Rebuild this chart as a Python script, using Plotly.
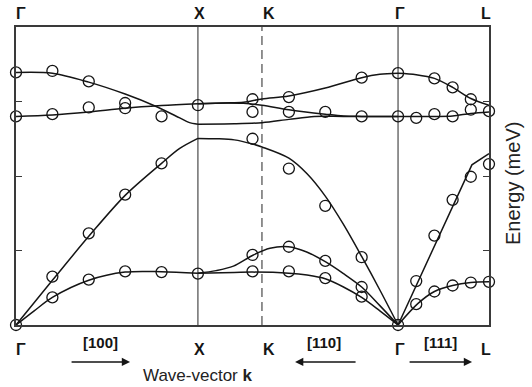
import plotly.graph_objects as go

# ---- symmetry points / labels ----
sym_labels = ['Γ', 'X', 'K', 'Γ', 'L']
sym_pos = [0.0, 1.0, 1.352, 2.1, 2.6]
dir_labels = ['[100]', '[110]', '[111]']
dir_pos = [0.467, 1.693, 2.331]
y_ticks = [10, 20, 30]

# ---- measured points (open circles) ----
meas_k = [0, 0, 0,
          0.2, 0.2, 0.2, 0.2,
          0.4, 0.4, 0.4, 0.4,
          0.6, 0.6, 0.6, 0.6,
          0.8, 0.8, 0.8,
          1.0, 1.0,
          1.3, 1.3, 1.3, 1.3, 1.3,
          1.5, 1.5, 1.5, 1.5, 1.5,
          1.7, 1.7, 1.7, 1.7,
          1.9, 1.9, 1.9, 1.9, 1.9,
          2.1, 2.1, 2.1,
          2.2, 2.2, 2.2,
          2.3, 2.3, 2.3, 2.3,
          2.4, 2.4, 2.4, 2.4,
          2.5, 2.5, 2.5, 2.5,
          2.6, 2.6, 2.6]
meas_E = [33.9, 28.0, 0.0,
          34.1, 28.3, 6.5, 3.7,
          32.7, 29.2, 12.3, 6.1,
          29.8, 29.1, 17.5, 7.2,
          28.0, 21.7, 7.1,
          29.5, 6.9,
          30.3, 28.6, 25.0, 9.4, 7.2,
          30.6, 28.6, 21.0, 10.5, 7.2,
          28.6, 16.0, 8.6, 6.3,
          33.2, 28.0, 9.1, 5.1, 3.8,
          33.8, 28.0, 0.0,
          27.8, 5.9, 2.8,
          33.1, 28.3, 12.0, 4.5,
          31.9, 28.0, 16.8, 5.3,
          30.3, 28.9, 19.9, 5.7,
          28.7, 21.6, 5.8]

# ---- calculated dispersion branches (lines) ----
# Gamma -> X
gx_ta_k = [0, 0.1, 0.2, 0.4, 0.6, 0.8, 1.0]
gx_ta_E = [0, 1.9, 3.7, 6.0, 7.1, 7.15, 6.95]
gx_la_k = [0, 0.2, 0.4, 0.6, 0.8, 0.9, 1.0]
gx_la_E = [0, 6.0, 11.9, 17.4, 21.7, 23.7, 25.05]
gx_opt1_k = [0, 0.2, 0.4, 0.6, 0.764, 0.9, 0.95, 1.0]
gx_opt1_E = [33.9, 33.8, 32.6, 31.0, 29.4, 27.8, 27.2, 26.95]
gx_opt2_k = [0, 0.2, 0.4, 0.6, 0.8, 1.0]
gx_opt2_E = [28.0, 28.2, 28.6, 29.1, 29.45, 29.7]
# X -> K -> Gamma
xg_opt1_k = [1.0, 1.2, 1.352, 1.5, 1.64, 1.8, 2.1]
xg_opt1_E = [26.95, 27.0, 27.15, 27.6, 28.0, 28.0, 28.0]
xg_opt2_k = [1.0, 1.15, 1.25, 1.352, 1.5, 1.7, 1.9, 2.0, 2.1]
xg_opt2_E = [29.7, 29.8, 29.9, 30.35, 30.75, 31.8, 33.2, 33.65, 33.8]
xg_opt3_k = [1.0, 1.15, 1.25, 1.352, 1.5, 1.7, 1.8, 1.9, 2.1]
xg_opt3_E = [29.7, 29.8, 29.75, 29.5, 28.9, 28.3, 28.05, 28.0, 28.0]
xg_la_k = [1.0, 1.1, 1.2, 1.3, 1.352, 1.5, 1.6, 1.7, 1.8, 1.9, 2.0, 2.1]
xg_la_E = [25.05, 25.0, 24.85, 24.3, 23.9, 22.4, 20.3, 17.3, 13.5, 9.2, 4.7, 0]
xg_ta2_k = [1.0, 1.1, 1.195, 1.305, 1.396, 1.497, 1.598, 1.7, 1.8, 1.9, 2.0, 2.1]
xg_ta2_E = [6.95, 7.3, 7.9, 9.4, 10.3, 10.5, 9.8, 8.5, 6.9, 5.1, 2.6, 0]
xg_ta1_k = [1.0, 1.2, 1.3, 1.5, 1.6, 1.7, 1.8, 1.9, 2.0, 2.1]
xg_ta1_E = [6.95, 7.05, 7.1, 6.95, 6.7, 6.2, 5.1, 3.7, 1.9, 0]
# Gamma -> L
gl_opt1_k = [2.1, 2.2, 2.3, 2.4, 2.5, 2.6]
gl_opt1_E = [33.8, 33.6, 33.1, 31.9, 30.4, 29.5]
gl_opt2_k = [2.1, 2.2, 2.3, 2.4, 2.5, 2.6]
gl_opt2_E = [28.0, 28.0, 28.0, 28.05, 28.4, 28.6]
gl_la_k = [2.1, 2.506, 2.6]
gl_la_E = [0, 21.5, 23.0]
gl_ta_k = [2.1, 2.21, 2.3, 2.4, 2.5, 2.6]
gl_ta_E = [0, 2.9, 4.5, 5.3, 5.7, 5.8]

INK = '#151515'
FRAME = '#3a3a3a'

fig = go.Figure()

curves = [
    (gx_ta_k, gx_ta_E, 'spline'), (gx_la_k, gx_la_E, 'spline'),
    (gx_opt1_k, gx_opt1_E, 'spline'), (gx_opt2_k, gx_opt2_E, 'spline'),
    (xg_opt1_k, xg_opt1_E, 'spline'), (xg_opt2_k, xg_opt2_E, 'spline'),
    (xg_opt3_k, xg_opt3_E, 'spline'), (xg_la_k, xg_la_E, 'spline'),
    (xg_ta2_k, xg_ta2_E, 'spline'), (xg_ta1_k, xg_ta1_E, 'spline'),
    (gl_opt1_k, gl_opt1_E, 'spline'), (gl_opt2_k, gl_opt2_E, 'spline'),
    (gl_la_k, gl_la_E, 'linear'), (gl_ta_k, gl_ta_E, 'spline'),
]
for kk, ee, shp in curves:
    fig.add_trace(go.Scatter(x=kk, y=ee, mode='lines',
                             line=dict(color=INK, width=1.5, shape=shp, smoothing=0.9),
                             hoverinfo='skip', showlegend=False))

fig.add_trace(go.Scatter(x=meas_k, y=meas_E, mode='markers', cliponaxis=False,
                         marker=dict(symbol='circle-open', size=11, color=INK,
                                     line=dict(width=1.3, color=INK)),
                         hoverinfo='skip', showlegend=False))

# vertical lines at interior symmetry points
shapes = []
for i, p in enumerate(sym_pos):
    if 0 < p < sym_pos[-1]:
        shapes.append(dict(type='line', xref='x', yref='paper', x0=p, x1=p, y0=0, y1=1,
                           line=dict(color=FRAME, width=1.1,
                                     dash='9px,5px' if sym_labels[i] == 'K' else 'solid'),
                           layer='below'))

annotations = []
sym_shift = [5, 1.5, 7, 2, -3]
for lab, p, xs in zip(sym_labels, sym_pos, sym_shift):
    for yv, ys in ((1, 14), (0, -24)):
        annotations.append(dict(x=p, y=yv, xref='x', yref='paper', text='<b>%s</b>' % lab,
                                showarrow=False, xanchor='center', yanchor='middle',
                                xshift=xs, yshift=ys,
                                font=dict(family='Liberation Sans, Arial', size=16, color=INK)))
for lab, p in zip(dir_labels, dir_pos):
    annotations.append(dict(x=p, y=0, xref='x', yref='paper', text='<b>%s</b>' % lab,
                            showarrow=False, xanchor='center', yanchor='middle', yshift=-17,
                            font=dict(family='Liberation Sans, Arial', size=15, color=INK)))
# direction arrows
for head, tail_dx in ((0.627, -60), (1.534, 62), (2.507, -64)):
    annotations.append(dict(x=head, y=-0.124, xref='x', yref='paper', ax=tail_dx, ay=0,
                            text='', showarrow=True, arrowhead=2, arrowsize=1.1,
                            arrowwidth=1.5, arrowcolor=INK))
annotations.append(dict(x=1.003, y=-0.168, xref='x', yref='paper',
                        text='Wave-vector <b>k</b>', showarrow=False,
                        xanchor='center', yanchor='middle',
                        font=dict(family='Liberation Sans, Arial', size=17, color='#222')))
annotations.append(dict(x=1.0507, y=0.4765, xref='paper', yref='paper',
                        text='Energy (meV)', showarrow=False, textangle=-90,
                        xanchor='center', yanchor='middle',
                        font=dict(family='Liberation Sans, Arial', size=20, color='#222')))

fig.update_layout(
    width=532, height=387,
    margin=dict(l=16, r=43, t=27, b=62),
    paper_bgcolor='white', plot_bgcolor='white',
    shapes=shapes, annotations=annotations,
    xaxis=dict(range=[0, 2.6], showgrid=False, zeroline=False, showticklabels=False,
               ticks='', showline=True, mirror=True, linecolor=FRAME, linewidth=1.5),
    yaxis=dict(range=[0, 40], showgrid=False, zeroline=False, showticklabels=False,
               tickvals=y_ticks, ticks='inside', ticklen=6, tickwidth=1.2, tickcolor=FRAME,
               showline=True, mirror='ticks', linecolor=FRAME, linewidth=1.5),
)

fig.write_html('out.html')
